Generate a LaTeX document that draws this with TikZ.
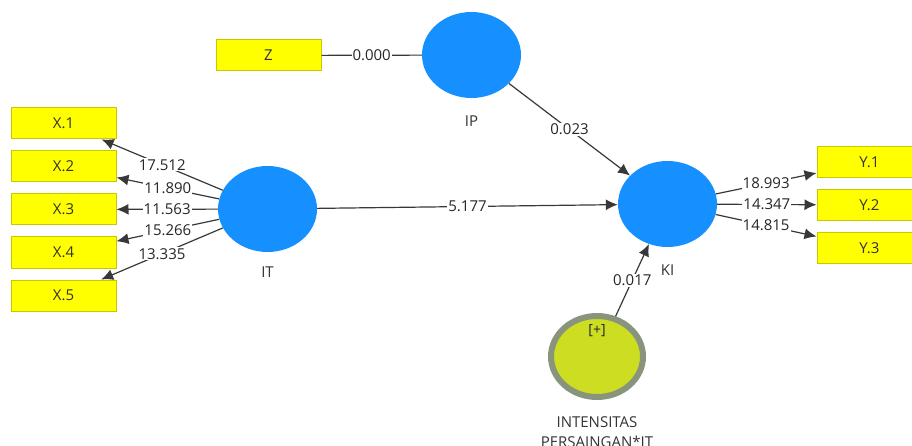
\documentclass[tikz,border=0pt]{standalone}
\usepackage{fontspec}
\setmainfont{Open Sans}
\usetikzlibrary{shapes.geometric,arrows.meta,positioning}
\definecolor{lvblue}{RGB}{22,144,255}
\definecolor{indyellow}{RGB}{255,255,0}
\definecolor{indborder}{RGB}{200,200,0}
\definecolor{modfill}{RGB}{204,221,34}
\definecolor{modborder}{RGB}{136,148,124}
\definecolor{linkgray}{RGB}{56,56,56}

\begin{document}
\begin{tikzpicture}[x=1pt,y=-1pt,font=\fontsize{15}{18}\selectfont,
  latent/.style={ellipse,fill=lvblue,minimum width=99pt,minimum height=86pt,inner sep=0pt},
  indicator/.style={rectangle,fill=indyellow,draw=indborder,line width=1pt,minimum width=105pt,minimum height=31pt,inner sep=0pt,text=black!80},
  link/.style={draw=linkgray,line width=1.2pt},
  arr/.style={link,-{Latex[length=12pt,width=11pt]}},
  coef/.style={fill=white,inner sep=1pt,text=black!85},
  lvname/.style={text=black!80}]
\useasboundingbox (0,0) rectangle (912,446);

\node[latent] (ip) at (471.5,55) {};
\node[latent] (it) at (267.5,209) {};
\node[latent] (ki) at (667.5,204) {};
\node[ellipse,fill=modfill,draw=modborder,line width=6pt,minimum width=92pt,minimum height=81pt,inner sep=0pt] (mod) at (597,356.5) {};

\node[lvname] (iplabel) at ([yshift=-23pt]ip.south) {IP};
\node[lvname] (itlabel) at ([yshift=-20pt]it.south) {IT};
\node[lvname] (kilabel) at ([yshift=-23pt]ki.south) {KI};
\node[lvname,align=center,font=\fontsize{15}{20}\selectfont] (modlabel) at ([yshift=-32pt]mod.south) {INTENSITAS\\PERSAINGAN*IT};
\node[text=black!85,font=\fontsize{14}{16}\selectfont] (modsign) at ([yshift=-18pt]mod.north) {[+]};

\node[indicator] (z) at (268.5,55.5) {Z};
\node[indicator] (x1) at (63.5,123.5) {X.1};
\node[indicator] (x2) at (63.5,166.5) {X.2};
\node[indicator] (x3) at (63.5,209.5) {X.3};
\node[indicator] (x4) at (63.5,252.5) {X.4};
\node[indicator] (x5) at (63.5,295.5) {X.5};
\node[indicator] (y1) at (869.5,162) {Y.1};
\node[indicator] (y2) at (869.5,205) {Y.2};
\node[indicator] (y3) at (869.5,248) {Y.3};

\draw[link] (z) -- node[coef] {0.000} (ip);
\draw[arr] (ip) -- node[coef] {0.023} (ki);
\draw[arr] (it) -- node[coef] {5.177} (ki);
\draw[arr] (mod) -- node[coef] {0.017} (ki);

\draw[arr] (it) -- node[coef] {17.512} (x1);
\draw[arr] (it) -- node[coef] {11.890} (x2);
\draw[arr] (it) -- node[coef] {11.563} (x3);
\draw[arr] (it) -- node[coef] {15.266} (x4);
\draw[arr] (it) -- node[coef] {13.335} (x5);

\draw[arr] (ki) -- node[coef] {18.993} (y1);
\draw[arr] (ki) -- node[coef] {14.347} (y2);
\draw[arr] (ki) -- node[coef] {14.815} (y3);
\end{tikzpicture}
\end{document}
